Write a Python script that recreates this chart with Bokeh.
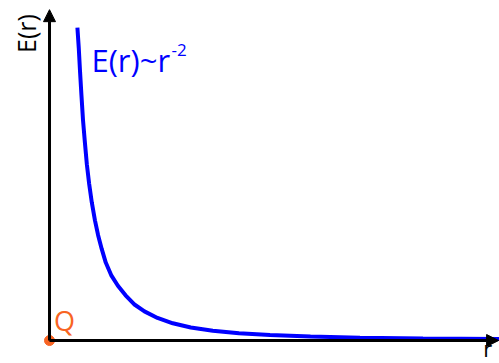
import math
from bokeh.plotting import figure
from bokeh.models import Range1d, Arrow, NormalHead, ColumnDataSource
from bokeh.core.properties import value
from bokeh.embed import file_html
from bokeh.resources import INLINE

# curve E(r) ~ r^-2 (arbitrary units)
r_vals = [0.62, 0.65, 0.68, 0.71, 0.745, 0.785, 0.83, 0.88, 0.94, 1.01, 1.08, 1.16,
          1.25, 1.37, 1.52, 1.69, 1.88, 2.11, 2.40, 2.74, 3.14, 3.63, 4.21, 4.9, 5.8,
          6.9, 8.3, 10.0]
e_vals = [2.63, 2.46, 2.25, 2.06, 1.85, 1.67, 1.48, 1.32, 1.16, 1.01, 0.885, 0.77,
          0.655, 0.55, 0.46, 0.38, 0.305, 0.245, 0.19, 0.145, 0.11, 0.083, 0.062,
          0.046, 0.033, 0.024, 0.017, 0.013]

r_axis_max = 9.98
e_axis_max = 2.78
charge_r = [0.0]
charge_e = [0.0]

curve_label = "E(r)~r"
curve_label_sup = "-2"
y_label = "E(r)"
x_label = "r"
charge_label = "Q"

BLUE = "#0000FF"
ORANGE = "#F86423"
FONT = value("Open Sans")

p = figure(width=499, height=363, output_backend="svg", toolbar_location=None,
           x_range=Range1d(-1.089, 10.0), y_range=Range1d(-0.193, 2.857),
           min_border=0)
p.axis.visible = False
p.grid.visible = False
p.outline_line_color = None
p.background_fill_color = "white"
p.border_fill_color = "white"

# axes as arrows
p.add_layout(Arrow(end=NormalHead(size=12, fill_color="black", line_color="black"),
                   x_start=0, y_start=0, x_end=r_axis_max, y_end=0,
                   line_width=3, line_color="black"))
p.add_layout(Arrow(end=NormalHead(size=12, fill_color="black", line_color="black"),
                   x_start=0, y_start=0, x_end=0, y_end=e_axis_max,
                   line_width=3, line_color="black"))

src = ColumnDataSource(dict(r=r_vals, e=e_vals))
p.line("r", "e", source=src, line_color=BLUE, line_width=4)

p.scatter(charge_r, charge_e, size=10, color=ORANGE, line_color=ORANGE)

p.text(x=[0.933], y=[2.353], text=[curve_label], text_color=BLUE,
       text_font=FONT, text_font_size="31px", text_baseline="alphabetic",
       text_align="left")
p.text(x=[2.711], y=[2.437], text=[curve_label_sup], text_color=BLUE,
       text_font=FONT, text_font_size="17px", text_baseline="alphabetic",
       text_align="left")
p.text(x=[-0.533], y=[2.580], text=[y_label], text_color="black",
       text_font=FONT, text_font_size="25px", text_baseline="middle",
       text_align="center", angle=math.pi / 2)
p.text(x=[0.10], y=[0.168], text=[charge_label], text_color=ORANGE,
       text_font=FONT, text_font_size="27px", text_baseline="alphabetic",
       text_align="left")
p.text(x=[9.64], y=[-0.185], text=[x_label], text_color="black",
       text_font=FONT, text_font_size="22px", text_baseline="bottom",
       text_align="left")

open("out.html", "w").write(file_html(p, INLINE))
